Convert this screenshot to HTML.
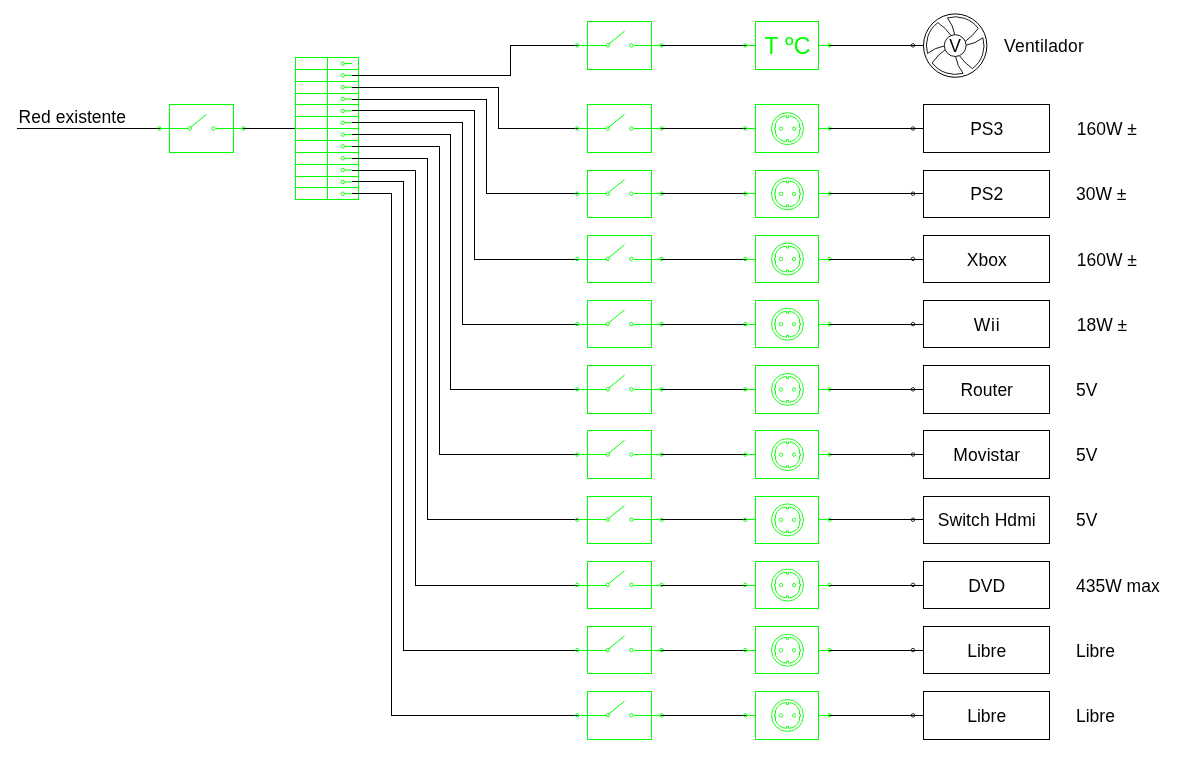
<!DOCTYPE html>
<html lang="es"><head><meta charset="utf-8"><title>Esquema eléctrico</title>
<style>
html,body{margin:0;padding:0;background:#fff;}
body{width:1182px;height:762px;overflow:hidden;}
svg{display:block;will-change:transform;font-family:"Liberation Sans",Arial,sans-serif;}
</style></head><body>
<svg width="1182" height="762" viewBox="0 0 1182 762">
<rect width="1182" height="762" fill="#fff"/>
<text x="18.5" y="123" font-size="17.5" fill="#000" text-anchor="start" textLength="107.52" lengthAdjust="spacing">Red existente</text>
<rect x="17" y="128" width="143" height="1" fill="#000"/>
<rect x="169.5" y="104.5" width="64" height="48" fill="none" stroke="#00ff00" stroke-width="1"/>
<rect x="160" y="128" width="28" height="1" fill="#00ff00"/>
<rect x="216" y="128" width="27" height="1" fill="#00ff00"/>
<line x1="190.70000000000002" y1="127.25" x2="206.5" y2="114.35000000000001" stroke="#00ff00" stroke-width="1"/>
<circle cx="189.70" cy="128.50" r="1.75" fill="none" stroke="#00ff00" stroke-width="0.9" />
<circle cx="213.40" cy="128.50" r="1.75" fill="none" stroke="#00ff00" stroke-width="0.9" />
<circle cx="159.30" cy="128.50" r="1.75" fill="none" stroke="#00ff00" stroke-width="0.9" />
<circle cx="243.60" cy="128.50" r="1.75" fill="none" stroke="#00ff00" stroke-width="0.9" />
<rect x="243" y="128" width="53" height="1" fill="#000"/>
<rect x="295" y="57" width="64" height="1" fill="#00ff00"/>
<rect x="295" y="69" width="64" height="1" fill="#00ff00"/>
<rect x="295" y="81" width="64" height="1" fill="#00ff00"/>
<rect x="295" y="93" width="64" height="1" fill="#00ff00"/>
<rect x="295" y="104" width="64" height="1" fill="#00ff00"/>
<rect x="295" y="116" width="64" height="1" fill="#00ff00"/>
<rect x="295" y="128" width="64" height="1" fill="#00ff00"/>
<rect x="295" y="140" width="64" height="1" fill="#00ff00"/>
<rect x="295" y="152" width="64" height="1" fill="#00ff00"/>
<rect x="295" y="164" width="64" height="1" fill="#00ff00"/>
<rect x="295" y="176" width="64" height="1" fill="#00ff00"/>
<rect x="295" y="187" width="64" height="1" fill="#00ff00"/>
<rect x="295" y="199" width="64" height="1" fill="#00ff00"/>
<rect x="295" y="57" width="1" height="143" fill="#00ff00"/>
<rect x="327" y="57" width="1" height="143" fill="#00ff00"/>
<rect x="358" y="57" width="1" height="143" fill="#00ff00"/>
<circle cx="342.70" cy="63.54" r="1.75" fill="none" stroke="#00ff00" stroke-width="0.9" />
<line x1="344.7" y1="63.54" x2="352" y2="63.54" stroke="#00ff00" stroke-width="1"/>
<circle cx="342.70" cy="75.38" r="1.75" fill="none" stroke="#00ff00" stroke-width="0.9" />
<line x1="344.7" y1="75.38" x2="352" y2="75.38" stroke="#00ff00" stroke-width="1"/>
<circle cx="342.70" cy="87.22" r="1.75" fill="none" stroke="#00ff00" stroke-width="0.9" />
<line x1="344.7" y1="87.22" x2="352" y2="87.22" stroke="#00ff00" stroke-width="1"/>
<circle cx="342.70" cy="99.06" r="1.75" fill="none" stroke="#00ff00" stroke-width="0.9" />
<line x1="344.7" y1="99.06" x2="352" y2="99.06" stroke="#00ff00" stroke-width="1"/>
<circle cx="342.70" cy="110.90" r="1.75" fill="none" stroke="#00ff00" stroke-width="0.9" />
<line x1="344.7" y1="110.90" x2="352" y2="110.90" stroke="#00ff00" stroke-width="1"/>
<circle cx="342.70" cy="122.74" r="1.75" fill="none" stroke="#00ff00" stroke-width="0.9" />
<line x1="344.7" y1="122.74" x2="352" y2="122.74" stroke="#00ff00" stroke-width="1"/>
<circle cx="342.70" cy="134.58" r="1.75" fill="none" stroke="#00ff00" stroke-width="0.9" />
<line x1="344.7" y1="134.58" x2="352" y2="134.58" stroke="#00ff00" stroke-width="1"/>
<circle cx="342.70" cy="146.42" r="1.75" fill="none" stroke="#00ff00" stroke-width="0.9" />
<line x1="344.7" y1="146.42" x2="352" y2="146.42" stroke="#00ff00" stroke-width="1"/>
<circle cx="342.70" cy="158.26" r="1.75" fill="none" stroke="#00ff00" stroke-width="0.9" />
<line x1="344.7" y1="158.26" x2="352" y2="158.26" stroke="#00ff00" stroke-width="1"/>
<circle cx="342.70" cy="170.10" r="1.75" fill="none" stroke="#00ff00" stroke-width="0.9" />
<line x1="344.7" y1="170.10" x2="352" y2="170.10" stroke="#00ff00" stroke-width="1"/>
<circle cx="342.70" cy="181.94" r="1.75" fill="none" stroke="#00ff00" stroke-width="0.9" />
<line x1="344.7" y1="181.94" x2="352" y2="181.94" stroke="#00ff00" stroke-width="1"/>
<circle cx="342.70" cy="193.78" r="1.75" fill="none" stroke="#00ff00" stroke-width="0.9" />
<line x1="344.7" y1="193.78" x2="352" y2="193.78" stroke="#00ff00" stroke-width="1"/>
<rect x="352" y="75" width="159" height="1" fill="#000"/>
<rect x="510" y="45" width="1" height="31" fill="#000"/>
<rect x="510" y="45" width="68" height="1" fill="#000"/>
<rect x="352" y="87" width="147" height="1" fill="#000"/>
<rect x="498" y="87" width="1" height="42" fill="#000"/>
<rect x="498" y="128" width="80" height="1" fill="#000"/>
<rect x="352" y="99" width="135" height="1" fill="#000"/>
<rect x="486" y="99" width="1" height="95" fill="#000"/>
<rect x="486" y="193" width="92" height="1" fill="#000"/>
<rect x="352" y="110" width="123" height="1" fill="#000"/>
<rect x="474" y="110" width="1" height="150" fill="#000"/>
<rect x="474" y="259" width="104" height="1" fill="#000"/>
<rect x="352" y="122" width="111" height="1" fill="#000"/>
<rect x="462" y="122" width="1" height="203" fill="#000"/>
<rect x="462" y="324" width="116" height="1" fill="#000"/>
<rect x="352" y="134" width="99" height="1" fill="#000"/>
<rect x="450" y="134" width="1" height="256" fill="#000"/>
<rect x="450" y="389" width="128" height="1" fill="#000"/>
<rect x="352" y="146" width="88" height="1" fill="#000"/>
<rect x="439" y="146" width="1" height="309" fill="#000"/>
<rect x="439" y="454" width="139" height="1" fill="#000"/>
<rect x="352" y="158" width="76" height="1" fill="#000"/>
<rect x="427" y="158" width="1" height="362" fill="#000"/>
<rect x="427" y="519" width="151" height="1" fill="#000"/>
<rect x="352" y="170" width="64" height="1" fill="#000"/>
<rect x="415" y="170" width="1" height="416" fill="#000"/>
<rect x="415" y="585" width="163" height="1" fill="#000"/>
<rect x="352" y="181" width="52" height="1" fill="#000"/>
<rect x="403" y="181" width="1" height="470" fill="#000"/>
<rect x="403" y="650" width="175" height="1" fill="#000"/>
<rect x="352" y="193" width="40" height="1" fill="#000"/>
<rect x="391" y="193" width="1" height="523" fill="#000"/>
<rect x="391" y="715" width="187" height="1" fill="#000"/>
<rect x="587.5" y="21.5" width="64" height="48" fill="none" stroke="#00ff00" stroke-width="1"/>
<rect x="578" y="45" width="28" height="1" fill="#00ff00"/>
<rect x="634" y="45" width="27" height="1" fill="#00ff00"/>
<line x1="608.6999999999999" y1="44.1" x2="624.5" y2="31.2" stroke="#00ff00" stroke-width="1"/>
<circle cx="607.70" cy="45.35" r="1.75" fill="none" stroke="#00ff00" stroke-width="0.9" />
<circle cx="631.40" cy="45.35" r="1.75" fill="none" stroke="#00ff00" stroke-width="0.9" />
<circle cx="577.30" cy="45.35" r="1.75" fill="none" stroke="#00ff00" stroke-width="0.9" />
<circle cx="661.60" cy="45.35" r="1.75" fill="none" stroke="#00ff00" stroke-width="0.9" />
<rect x="661" y="45" width="85" height="1" fill="#000"/>
<rect x="755.5" y="21.5" width="63" height="48" fill="none" stroke="#00ff00" stroke-width="1"/>
<rect x="746" y="45" width="10" height="1" fill="#00ff00"/>
<rect x="818" y="45" width="11" height="1" fill="#00ff00"/>
<circle cx="745.30" cy="45.35" r="1.75" fill="none" stroke="#00ff00" stroke-width="0.9" />
<circle cx="829.50" cy="45.35" r="1.75" fill="none" stroke="#00ff00" stroke-width="0.9" />
<rect x="829" y="45" width="84" height="1" fill="#000"/>
<circle cx="913.00" cy="45.35" r="1.75" fill="none" stroke="#000" stroke-width="0.8" />
<text x="764.2" y="54" font-size="23.2" fill="#00ff00">T <tspan dy="-1.9" dx="0.5">º</tspan><tspan dy="1.9" dx="0.3">C</tspan></text>
<rect x="587.5" y="104.5" width="64" height="48" fill="none" stroke="#00ff00" stroke-width="1"/>
<rect x="578" y="128" width="28" height="1" fill="#00ff00"/>
<rect x="634" y="128" width="27" height="1" fill="#00ff00"/>
<line x1="608.6999999999999" y1="127.25" x2="624.5" y2="114.35000000000001" stroke="#00ff00" stroke-width="1"/>
<circle cx="607.70" cy="128.50" r="1.75" fill="none" stroke="#00ff00" stroke-width="0.9" />
<circle cx="631.40" cy="128.50" r="1.75" fill="none" stroke="#00ff00" stroke-width="0.9" />
<circle cx="577.30" cy="128.50" r="1.75" fill="none" stroke="#00ff00" stroke-width="0.9" />
<circle cx="661.60" cy="128.50" r="1.75" fill="none" stroke="#00ff00" stroke-width="0.9" />
<rect x="661" y="128" width="85" height="1" fill="#000"/>
<rect x="755.5" y="104.5" width="63" height="48" fill="none" stroke="#00ff00" stroke-width="1"/>
<rect x="746" y="128" width="10" height="1" fill="#00ff00"/>
<rect x="818" y="128" width="11" height="1" fill="#00ff00"/>
<circle cx="745.30" cy="128.50" r="1.75" fill="none" stroke="#00ff00" stroke-width="0.9" />
<circle cx="829.50" cy="128.50" r="1.75" fill="none" stroke="#00ff00" stroke-width="0.9" />
<rect x="829" y="128" width="84" height="1" fill="#000"/>
<circle cx="913.00" cy="128.50" r="1.75" fill="none" stroke="#000" stroke-width="0.8" />
<circle cx="787.50" cy="128.65" r="16" fill="none" stroke="#00ff00" stroke-width="0.9" />
<g transform="translate(787.5,128.65)" fill="none" stroke="#00ff00" stroke-width="0.9"><path d="M-1,-12.96 V-11 H1 V-12.96 A13,13 0 0 1 12,-5 V-1 H13 V1 H12 V5 A13,13 0 0 1 1,12.96 V11 H-1 V12.96 A13,13 0 0 1 -12,5 V1 H-13 V-1 H-12 V-5 A13,13 0 0 1 -1,-12.96 Z"/><circle cx="-6.5" cy="0" r="1.7" stroke-width="0.8"/><circle cx="6.5" cy="0" r="1.7" stroke-width="0.8"/></g>
<rect x="587.5" y="170.5" width="64" height="47" fill="none" stroke="#00ff00" stroke-width="1"/>
<rect x="578" y="193" width="28" height="1" fill="#00ff00"/>
<rect x="634" y="193" width="27" height="1" fill="#00ff00"/>
<line x1="608.6999999999999" y1="192.45000000000002" x2="624.5" y2="179.55" stroke="#00ff00" stroke-width="1"/>
<circle cx="607.70" cy="193.70" r="1.75" fill="none" stroke="#00ff00" stroke-width="0.9" />
<circle cx="631.40" cy="193.70" r="1.75" fill="none" stroke="#00ff00" stroke-width="0.9" />
<circle cx="577.30" cy="193.70" r="1.75" fill="none" stroke="#00ff00" stroke-width="0.9" />
<circle cx="661.60" cy="193.70" r="1.75" fill="none" stroke="#00ff00" stroke-width="0.9" />
<rect x="661" y="193" width="85" height="1" fill="#000"/>
<rect x="755.5" y="170.5" width="63" height="47" fill="none" stroke="#00ff00" stroke-width="1"/>
<rect x="746" y="193" width="10" height="1" fill="#00ff00"/>
<rect x="818" y="193" width="11" height="1" fill="#00ff00"/>
<circle cx="745.30" cy="193.70" r="1.75" fill="none" stroke="#00ff00" stroke-width="0.9" />
<circle cx="829.50" cy="193.70" r="1.75" fill="none" stroke="#00ff00" stroke-width="0.9" />
<rect x="829" y="193" width="84" height="1" fill="#000"/>
<circle cx="913.00" cy="193.70" r="1.75" fill="none" stroke="#000" stroke-width="0.8" />
<circle cx="787.50" cy="193.85" r="16" fill="none" stroke="#00ff00" stroke-width="0.9" />
<g transform="translate(787.5,193.85000000000002)" fill="none" stroke="#00ff00" stroke-width="0.9"><path d="M-1,-12.96 V-11 H1 V-12.96 A13,13 0 0 1 12,-5 V-1 H13 V1 H12 V5 A13,13 0 0 1 1,12.96 V11 H-1 V12.96 A13,13 0 0 1 -12,5 V1 H-13 V-1 H-12 V-5 A13,13 0 0 1 -1,-12.96 Z"/><circle cx="-6.5" cy="0" r="1.7" stroke-width="0.8"/><circle cx="6.5" cy="0" r="1.7" stroke-width="0.8"/></g>
<rect x="587.5" y="235.5" width="64" height="47" fill="none" stroke="#00ff00" stroke-width="1"/>
<rect x="578" y="259" width="28" height="1" fill="#00ff00"/>
<rect x="634" y="259" width="27" height="1" fill="#00ff00"/>
<line x1="608.6999999999999" y1="257.65000000000003" x2="624.5" y2="244.75" stroke="#00ff00" stroke-width="1"/>
<circle cx="607.70" cy="258.90" r="1.75" fill="none" stroke="#00ff00" stroke-width="0.9" />
<circle cx="631.40" cy="258.90" r="1.75" fill="none" stroke="#00ff00" stroke-width="0.9" />
<circle cx="577.30" cy="258.90" r="1.75" fill="none" stroke="#00ff00" stroke-width="0.9" />
<circle cx="661.60" cy="258.90" r="1.75" fill="none" stroke="#00ff00" stroke-width="0.9" />
<rect x="661" y="259" width="85" height="1" fill="#000"/>
<rect x="755.5" y="235.5" width="63" height="47" fill="none" stroke="#00ff00" stroke-width="1"/>
<rect x="746" y="259" width="10" height="1" fill="#00ff00"/>
<rect x="818" y="259" width="11" height="1" fill="#00ff00"/>
<circle cx="745.30" cy="258.90" r="1.75" fill="none" stroke="#00ff00" stroke-width="0.9" />
<circle cx="829.50" cy="258.90" r="1.75" fill="none" stroke="#00ff00" stroke-width="0.9" />
<rect x="829" y="259" width="84" height="1" fill="#000"/>
<circle cx="913.00" cy="258.90" r="1.75" fill="none" stroke="#000" stroke-width="0.8" />
<circle cx="787.50" cy="259.05" r="16" fill="none" stroke="#00ff00" stroke-width="0.9" />
<g transform="translate(787.5,259.05)" fill="none" stroke="#00ff00" stroke-width="0.9"><path d="M-1,-12.96 V-11 H1 V-12.96 A13,13 0 0 1 12,-5 V-1 H13 V1 H12 V5 A13,13 0 0 1 1,12.96 V11 H-1 V12.96 A13,13 0 0 1 -12,5 V1 H-13 V-1 H-12 V-5 A13,13 0 0 1 -1,-12.96 Z"/><circle cx="-6.5" cy="0" r="1.7" stroke-width="0.8"/><circle cx="6.5" cy="0" r="1.7" stroke-width="0.8"/></g>
<rect x="587.5" y="300.5" width="64" height="47" fill="none" stroke="#00ff00" stroke-width="1"/>
<rect x="578" y="324" width="28" height="1" fill="#00ff00"/>
<rect x="634" y="324" width="27" height="1" fill="#00ff00"/>
<line x1="608.6999999999999" y1="322.85" x2="624.5" y2="309.95" stroke="#00ff00" stroke-width="1"/>
<circle cx="607.70" cy="324.10" r="1.75" fill="none" stroke="#00ff00" stroke-width="0.9" />
<circle cx="631.40" cy="324.10" r="1.75" fill="none" stroke="#00ff00" stroke-width="0.9" />
<circle cx="577.30" cy="324.10" r="1.75" fill="none" stroke="#00ff00" stroke-width="0.9" />
<circle cx="661.60" cy="324.10" r="1.75" fill="none" stroke="#00ff00" stroke-width="0.9" />
<rect x="661" y="324" width="85" height="1" fill="#000"/>
<rect x="755.5" y="300.5" width="63" height="47" fill="none" stroke="#00ff00" stroke-width="1"/>
<rect x="746" y="324" width="10" height="1" fill="#00ff00"/>
<rect x="818" y="324" width="11" height="1" fill="#00ff00"/>
<circle cx="745.30" cy="324.10" r="1.75" fill="none" stroke="#00ff00" stroke-width="0.9" />
<circle cx="829.50" cy="324.10" r="1.75" fill="none" stroke="#00ff00" stroke-width="0.9" />
<rect x="829" y="324" width="84" height="1" fill="#000"/>
<circle cx="913.00" cy="324.10" r="1.75" fill="none" stroke="#000" stroke-width="0.8" />
<circle cx="787.50" cy="324.25" r="16" fill="none" stroke="#00ff00" stroke-width="0.9" />
<g transform="translate(787.5,324.25)" fill="none" stroke="#00ff00" stroke-width="0.9"><path d="M-1,-12.96 V-11 H1 V-12.96 A13,13 0 0 1 12,-5 V-1 H13 V1 H12 V5 A13,13 0 0 1 1,12.96 V11 H-1 V12.96 A13,13 0 0 1 -12,5 V1 H-13 V-1 H-12 V-5 A13,13 0 0 1 -1,-12.96 Z"/><circle cx="-6.5" cy="0" r="1.7" stroke-width="0.8"/><circle cx="6.5" cy="0" r="1.7" stroke-width="0.8"/></g>
<rect x="587.5" y="365.5" width="64" height="48" fill="none" stroke="#00ff00" stroke-width="1"/>
<rect x="578" y="389" width="28" height="1" fill="#00ff00"/>
<rect x="634" y="389" width="27" height="1" fill="#00ff00"/>
<line x1="608.6999999999999" y1="388.05000000000007" x2="624.5" y2="375.15000000000003" stroke="#00ff00" stroke-width="1"/>
<circle cx="607.70" cy="389.30" r="1.75" fill="none" stroke="#00ff00" stroke-width="0.9" />
<circle cx="631.40" cy="389.30" r="1.75" fill="none" stroke="#00ff00" stroke-width="0.9" />
<circle cx="577.30" cy="389.30" r="1.75" fill="none" stroke="#00ff00" stroke-width="0.9" />
<circle cx="661.60" cy="389.30" r="1.75" fill="none" stroke="#00ff00" stroke-width="0.9" />
<rect x="661" y="389" width="85" height="1" fill="#000"/>
<rect x="755.5" y="365.5" width="63" height="48" fill="none" stroke="#00ff00" stroke-width="1"/>
<rect x="746" y="389" width="10" height="1" fill="#00ff00"/>
<rect x="818" y="389" width="11" height="1" fill="#00ff00"/>
<circle cx="745.30" cy="389.30" r="1.75" fill="none" stroke="#00ff00" stroke-width="0.9" />
<circle cx="829.50" cy="389.30" r="1.75" fill="none" stroke="#00ff00" stroke-width="0.9" />
<rect x="829" y="389" width="84" height="1" fill="#000"/>
<circle cx="913.00" cy="389.30" r="1.75" fill="none" stroke="#000" stroke-width="0.8" />
<circle cx="787.50" cy="389.45" r="16" fill="none" stroke="#00ff00" stroke-width="0.9" />
<g transform="translate(787.5,389.45000000000005)" fill="none" stroke="#00ff00" stroke-width="0.9"><path d="M-1,-12.96 V-11 H1 V-12.96 A13,13 0 0 1 12,-5 V-1 H13 V1 H12 V5 A13,13 0 0 1 1,12.96 V11 H-1 V12.96 A13,13 0 0 1 -12,5 V1 H-13 V-1 H-12 V-5 A13,13 0 0 1 -1,-12.96 Z"/><circle cx="-6.5" cy="0" r="1.7" stroke-width="0.8"/><circle cx="6.5" cy="0" r="1.7" stroke-width="0.8"/></g>
<rect x="587.5" y="430.5" width="64" height="48" fill="none" stroke="#00ff00" stroke-width="1"/>
<rect x="578" y="454" width="28" height="1" fill="#00ff00"/>
<rect x="634" y="454" width="27" height="1" fill="#00ff00"/>
<line x1="608.6999999999999" y1="453.25" x2="624.5" y2="440.34999999999997" stroke="#00ff00" stroke-width="1"/>
<circle cx="607.70" cy="454.50" r="1.75" fill="none" stroke="#00ff00" stroke-width="0.9" />
<circle cx="631.40" cy="454.50" r="1.75" fill="none" stroke="#00ff00" stroke-width="0.9" />
<circle cx="577.30" cy="454.50" r="1.75" fill="none" stroke="#00ff00" stroke-width="0.9" />
<circle cx="661.60" cy="454.50" r="1.75" fill="none" stroke="#00ff00" stroke-width="0.9" />
<rect x="661" y="454" width="85" height="1" fill="#000"/>
<rect x="755.5" y="430.5" width="63" height="48" fill="none" stroke="#00ff00" stroke-width="1"/>
<rect x="746" y="454" width="10" height="1" fill="#00ff00"/>
<rect x="818" y="454" width="11" height="1" fill="#00ff00"/>
<circle cx="745.30" cy="454.50" r="1.75" fill="none" stroke="#00ff00" stroke-width="0.9" />
<circle cx="829.50" cy="454.50" r="1.75" fill="none" stroke="#00ff00" stroke-width="0.9" />
<rect x="829" y="454" width="84" height="1" fill="#000"/>
<circle cx="913.00" cy="454.50" r="1.75" fill="none" stroke="#000" stroke-width="0.8" />
<circle cx="787.50" cy="454.65" r="16" fill="none" stroke="#00ff00" stroke-width="0.9" />
<g transform="translate(787.5,454.65)" fill="none" stroke="#00ff00" stroke-width="0.9"><path d="M-1,-12.96 V-11 H1 V-12.96 A13,13 0 0 1 12,-5 V-1 H13 V1 H12 V5 A13,13 0 0 1 1,12.96 V11 H-1 V12.96 A13,13 0 0 1 -12,5 V1 H-13 V-1 H-12 V-5 A13,13 0 0 1 -1,-12.96 Z"/><circle cx="-6.5" cy="0" r="1.7" stroke-width="0.8"/><circle cx="6.5" cy="0" r="1.7" stroke-width="0.8"/></g>
<rect x="587.5" y="496.5" width="64" height="47" fill="none" stroke="#00ff00" stroke-width="1"/>
<rect x="578" y="519" width="28" height="1" fill="#00ff00"/>
<rect x="634" y="519" width="27" height="1" fill="#00ff00"/>
<line x1="608.6999999999999" y1="518.45" x2="624.5" y2="505.55" stroke="#00ff00" stroke-width="1"/>
<circle cx="607.70" cy="519.70" r="1.75" fill="none" stroke="#00ff00" stroke-width="0.9" />
<circle cx="631.40" cy="519.70" r="1.75" fill="none" stroke="#00ff00" stroke-width="0.9" />
<circle cx="577.30" cy="519.70" r="1.75" fill="none" stroke="#00ff00" stroke-width="0.9" />
<circle cx="661.60" cy="519.70" r="1.75" fill="none" stroke="#00ff00" stroke-width="0.9" />
<rect x="661" y="519" width="85" height="1" fill="#000"/>
<rect x="755.5" y="496.5" width="63" height="47" fill="none" stroke="#00ff00" stroke-width="1"/>
<rect x="746" y="519" width="10" height="1" fill="#00ff00"/>
<rect x="818" y="519" width="11" height="1" fill="#00ff00"/>
<circle cx="745.30" cy="519.70" r="1.75" fill="none" stroke="#00ff00" stroke-width="0.9" />
<circle cx="829.50" cy="519.70" r="1.75" fill="none" stroke="#00ff00" stroke-width="0.9" />
<rect x="829" y="519" width="84" height="1" fill="#000"/>
<circle cx="913.00" cy="519.70" r="1.75" fill="none" stroke="#000" stroke-width="0.8" />
<circle cx="787.50" cy="519.85" r="16" fill="none" stroke="#00ff00" stroke-width="0.9" />
<g transform="translate(787.5,519.85)" fill="none" stroke="#00ff00" stroke-width="0.9"><path d="M-1,-12.96 V-11 H1 V-12.96 A13,13 0 0 1 12,-5 V-1 H13 V1 H12 V5 A13,13 0 0 1 1,12.96 V11 H-1 V12.96 A13,13 0 0 1 -12,5 V1 H-13 V-1 H-12 V-5 A13,13 0 0 1 -1,-12.96 Z"/><circle cx="-6.5" cy="0" r="1.7" stroke-width="0.8"/><circle cx="6.5" cy="0" r="1.7" stroke-width="0.8"/></g>
<rect x="587.5" y="561.5" width="64" height="47" fill="none" stroke="#00ff00" stroke-width="1"/>
<rect x="578" y="585" width="28" height="1" fill="#00ff00"/>
<rect x="634" y="585" width="27" height="1" fill="#00ff00"/>
<line x1="608.6999999999999" y1="583.6500000000001" x2="624.5" y2="570.7500000000001" stroke="#00ff00" stroke-width="1"/>
<circle cx="607.70" cy="584.90" r="1.75" fill="none" stroke="#00ff00" stroke-width="0.9" />
<circle cx="631.40" cy="584.90" r="1.75" fill="none" stroke="#00ff00" stroke-width="0.9" />
<circle cx="577.30" cy="584.90" r="1.75" fill="none" stroke="#00ff00" stroke-width="0.9" />
<circle cx="661.60" cy="584.90" r="1.75" fill="none" stroke="#00ff00" stroke-width="0.9" />
<rect x="661" y="585" width="85" height="1" fill="#000"/>
<rect x="755.5" y="561.5" width="63" height="47" fill="none" stroke="#00ff00" stroke-width="1"/>
<rect x="746" y="585" width="10" height="1" fill="#00ff00"/>
<rect x="818" y="585" width="11" height="1" fill="#00ff00"/>
<circle cx="745.30" cy="584.90" r="1.75" fill="none" stroke="#00ff00" stroke-width="0.9" />
<circle cx="829.50" cy="584.90" r="1.75" fill="none" stroke="#00ff00" stroke-width="0.9" />
<rect x="829" y="585" width="84" height="1" fill="#000"/>
<circle cx="913.00" cy="584.90" r="1.75" fill="none" stroke="#000" stroke-width="0.8" />
<circle cx="787.50" cy="585.05" r="16" fill="none" stroke="#00ff00" stroke-width="0.9" />
<g transform="translate(787.5,585.0500000000001)" fill="none" stroke="#00ff00" stroke-width="0.9"><path d="M-1,-12.96 V-11 H1 V-12.96 A13,13 0 0 1 12,-5 V-1 H13 V1 H12 V5 A13,13 0 0 1 1,12.96 V11 H-1 V12.96 A13,13 0 0 1 -12,5 V1 H-13 V-1 H-12 V-5 A13,13 0 0 1 -1,-12.96 Z"/><circle cx="-6.5" cy="0" r="1.7" stroke-width="0.8"/><circle cx="6.5" cy="0" r="1.7" stroke-width="0.8"/></g>
<rect x="587.5" y="626.5" width="64" height="47" fill="none" stroke="#00ff00" stroke-width="1"/>
<rect x="578" y="650" width="28" height="1" fill="#00ff00"/>
<rect x="634" y="650" width="27" height="1" fill="#00ff00"/>
<line x1="608.6999999999999" y1="648.85" x2="624.5" y2="635.95" stroke="#00ff00" stroke-width="1"/>
<circle cx="607.70" cy="650.10" r="1.75" fill="none" stroke="#00ff00" stroke-width="0.9" />
<circle cx="631.40" cy="650.10" r="1.75" fill="none" stroke="#00ff00" stroke-width="0.9" />
<circle cx="577.30" cy="650.10" r="1.75" fill="none" stroke="#00ff00" stroke-width="0.9" />
<circle cx="661.60" cy="650.10" r="1.75" fill="none" stroke="#00ff00" stroke-width="0.9" />
<rect x="661" y="650" width="85" height="1" fill="#000"/>
<rect x="755.5" y="626.5" width="63" height="47" fill="none" stroke="#00ff00" stroke-width="1"/>
<rect x="746" y="650" width="10" height="1" fill="#00ff00"/>
<rect x="818" y="650" width="11" height="1" fill="#00ff00"/>
<circle cx="745.30" cy="650.10" r="1.75" fill="none" stroke="#00ff00" stroke-width="0.9" />
<circle cx="829.50" cy="650.10" r="1.75" fill="none" stroke="#00ff00" stroke-width="0.9" />
<rect x="829" y="650" width="84" height="1" fill="#000"/>
<circle cx="913.00" cy="650.10" r="1.75" fill="none" stroke="#000" stroke-width="0.8" />
<circle cx="787.50" cy="650.25" r="16" fill="none" stroke="#00ff00" stroke-width="0.9" />
<g transform="translate(787.5,650.25)" fill="none" stroke="#00ff00" stroke-width="0.9"><path d="M-1,-12.96 V-11 H1 V-12.96 A13,13 0 0 1 12,-5 V-1 H13 V1 H12 V5 A13,13 0 0 1 1,12.96 V11 H-1 V12.96 A13,13 0 0 1 -12,5 V1 H-13 V-1 H-12 V-5 A13,13 0 0 1 -1,-12.96 Z"/><circle cx="-6.5" cy="0" r="1.7" stroke-width="0.8"/><circle cx="6.5" cy="0" r="1.7" stroke-width="0.8"/></g>
<rect x="587.5" y="691.5" width="64" height="48" fill="none" stroke="#00ff00" stroke-width="1"/>
<rect x="578" y="715" width="28" height="1" fill="#00ff00"/>
<rect x="634" y="715" width="27" height="1" fill="#00ff00"/>
<line x1="608.6999999999999" y1="714.0500000000001" x2="624.5" y2="701.1500000000001" stroke="#00ff00" stroke-width="1"/>
<circle cx="607.70" cy="715.30" r="1.75" fill="none" stroke="#00ff00" stroke-width="0.9" />
<circle cx="631.40" cy="715.30" r="1.75" fill="none" stroke="#00ff00" stroke-width="0.9" />
<circle cx="577.30" cy="715.30" r="1.75" fill="none" stroke="#00ff00" stroke-width="0.9" />
<circle cx="661.60" cy="715.30" r="1.75" fill="none" stroke="#00ff00" stroke-width="0.9" />
<rect x="661" y="715" width="85" height="1" fill="#000"/>
<rect x="755.5" y="691.5" width="63" height="48" fill="none" stroke="#00ff00" stroke-width="1"/>
<rect x="746" y="715" width="10" height="1" fill="#00ff00"/>
<rect x="818" y="715" width="11" height="1" fill="#00ff00"/>
<circle cx="745.30" cy="715.30" r="1.75" fill="none" stroke="#00ff00" stroke-width="0.9" />
<circle cx="829.50" cy="715.30" r="1.75" fill="none" stroke="#00ff00" stroke-width="0.9" />
<rect x="829" y="715" width="84" height="1" fill="#000"/>
<circle cx="913.00" cy="715.30" r="1.75" fill="none" stroke="#000" stroke-width="0.8" />
<circle cx="787.50" cy="715.45" r="16" fill="none" stroke="#00ff00" stroke-width="0.9" />
<g transform="translate(787.5,715.45)" fill="none" stroke="#00ff00" stroke-width="0.9"><path d="M-1,-12.96 V-11 H1 V-12.96 A13,13 0 0 1 12,-5 V-1 H13 V1 H12 V5 A13,13 0 0 1 1,12.96 V11 H-1 V12.96 A13,13 0 0 1 -12,5 V1 H-13 V-1 H-12 V-5 A13,13 0 0 1 -1,-12.96 Z"/><circle cx="-6.5" cy="0" r="1.7" stroke-width="0.8"/><circle cx="6.5" cy="0" r="1.7" stroke-width="0.8"/></g>
<rect x="913" y="45" width="11" height="1" fill="#000"/>
<circle cx="955.20" cy="45.60" r="31.7" fill="none" stroke="#000" stroke-width="1" />
<circle cx="955.20" cy="45.60" r="10.9" fill="none" stroke="#000" stroke-width="0.9" />
<g transform="translate(955.2,45.6)" fill="none" stroke="#000" stroke-width="0.9" stroke-linejoin="miter"><path transform="rotate(0)" d="M-0.42,-10.89 Q-1.93,-20.27 -7.84,-27.71 A28.8,28.8 0 0 1 23.03,-17.29 Q17.82,-9.49 10.05,-4.22"/><path transform="rotate(90)" d="M-0.42,-10.89 Q-1.93,-20.27 -7.84,-27.71 A28.8,28.8 0 0 1 23.03,-17.29 Q17.82,-9.49 10.05,-4.22"/><path transform="rotate(180)" d="M-0.42,-10.89 Q-1.93,-20.27 -7.84,-27.71 A28.8,28.8 0 0 1 23.03,-17.29 Q17.82,-9.49 10.05,-4.22"/><path transform="rotate(270)" d="M-0.42,-10.89 Q-1.93,-20.27 -7.84,-27.71 A28.8,28.8 0 0 1 23.03,-17.29 Q17.82,-9.49 10.05,-4.22"/></g>
<text x="955.1" y="51.5" font-size="17.5" fill="#000" text-anchor="middle">V</text>
<text x="1004" y="51.5" font-size="17.5" fill="#000" text-anchor="start" textLength="79.84" lengthAdjust="spacing">Ventilador</text>
<rect x="923.5" y="104.5" width="126" height="48" fill="none" stroke="#000" stroke-width="1"/>
<rect x="913" y="128" width="11" height="1" fill="#000"/>
<text x="986.7" y="135.2" font-size="17.5" fill="#000" text-anchor="middle">PS3</text>
<text x="1076.7" y="135.2" font-size="17.5" fill="#000" text-anchor="start">160W ±</text>
<rect x="923.5" y="170.5" width="126" height="47" fill="none" stroke="#000" stroke-width="1"/>
<rect x="913" y="193" width="11" height="1" fill="#000"/>
<text x="986.7" y="200.2" font-size="17.5" fill="#000" text-anchor="middle">PS2</text>
<text x="1076" y="200.2" font-size="17.5" fill="#000" text-anchor="start">30W ±</text>
<rect x="923.5" y="235.5" width="126" height="47" fill="none" stroke="#000" stroke-width="1"/>
<rect x="913" y="259" width="11" height="1" fill="#000"/>
<text x="986.7" y="266.2" font-size="17.5" fill="#000" text-anchor="middle">Xbox</text>
<text x="1076.7" y="266.2" font-size="17.5" fill="#000" text-anchor="start">160W ±</text>
<rect x="923.5" y="300.5" width="126" height="47" fill="none" stroke="#000" stroke-width="1"/>
<rect x="913" y="324" width="11" height="1" fill="#000"/>
<text x="986.7" y="331.2" font-size="17.5" fill="#000" text-anchor="middle" textLength="25.80" lengthAdjust="spacing">Wii</text>
<text x="1076.7" y="331.2" font-size="17.5" fill="#000" text-anchor="start">18W ±</text>
<rect x="923.5" y="365.5" width="126" height="48" fill="none" stroke="#000" stroke-width="1"/>
<rect x="913" y="389" width="11" height="1" fill="#000"/>
<text x="986.7" y="396.2" font-size="17.5" fill="#000" text-anchor="middle">Router</text>
<text x="1076" y="396.2" font-size="17.5" fill="#000" text-anchor="start">5V</text>
<rect x="923.5" y="430.5" width="126" height="48" fill="none" stroke="#000" stroke-width="1"/>
<rect x="913" y="454" width="11" height="1" fill="#000"/>
<text x="986.7" y="461.2" font-size="17.5" fill="#000" text-anchor="middle" textLength="66.72" lengthAdjust="spacing">Movistar</text>
<text x="1076" y="461.2" font-size="17.5" fill="#000" text-anchor="start">5V</text>
<rect x="923.5" y="496.5" width="126" height="47" fill="none" stroke="#000" stroke-width="1"/>
<rect x="913" y="519" width="11" height="1" fill="#000"/>
<text x="986.7" y="526.2" font-size="17.5" fill="#000" text-anchor="middle" textLength="98.05" lengthAdjust="spacing">Switch Hdmi</text>
<text x="1076" y="526.2" font-size="17.5" fill="#000" text-anchor="start">5V</text>
<rect x="923.5" y="561.5" width="126" height="47" fill="none" stroke="#000" stroke-width="1"/>
<rect x="913" y="585" width="11" height="1" fill="#000"/>
<text x="986.7" y="592.2" font-size="17.5" fill="#000" text-anchor="middle">DVD</text>
<text x="1076" y="592.2" font-size="17.5" fill="#000" text-anchor="start">435W max</text>
<rect x="923.5" y="626.5" width="126" height="47" fill="none" stroke="#000" stroke-width="1"/>
<rect x="913" y="650" width="11" height="1" fill="#000"/>
<text x="986.7" y="657.2" font-size="17.5" fill="#000" text-anchor="middle">Libre</text>
<text x="1076" y="657.2" font-size="17.5" fill="#000" text-anchor="start">Libre</text>
<rect x="923.5" y="691.5" width="126" height="48" fill="none" stroke="#000" stroke-width="1"/>
<rect x="913" y="715" width="11" height="1" fill="#000"/>
<text x="986.7" y="722.2" font-size="17.5" fill="#000" text-anchor="middle">Libre</text>
<text x="1076" y="722.2" font-size="17.5" fill="#000" text-anchor="start">Libre</text>
</svg>
</body></html>
